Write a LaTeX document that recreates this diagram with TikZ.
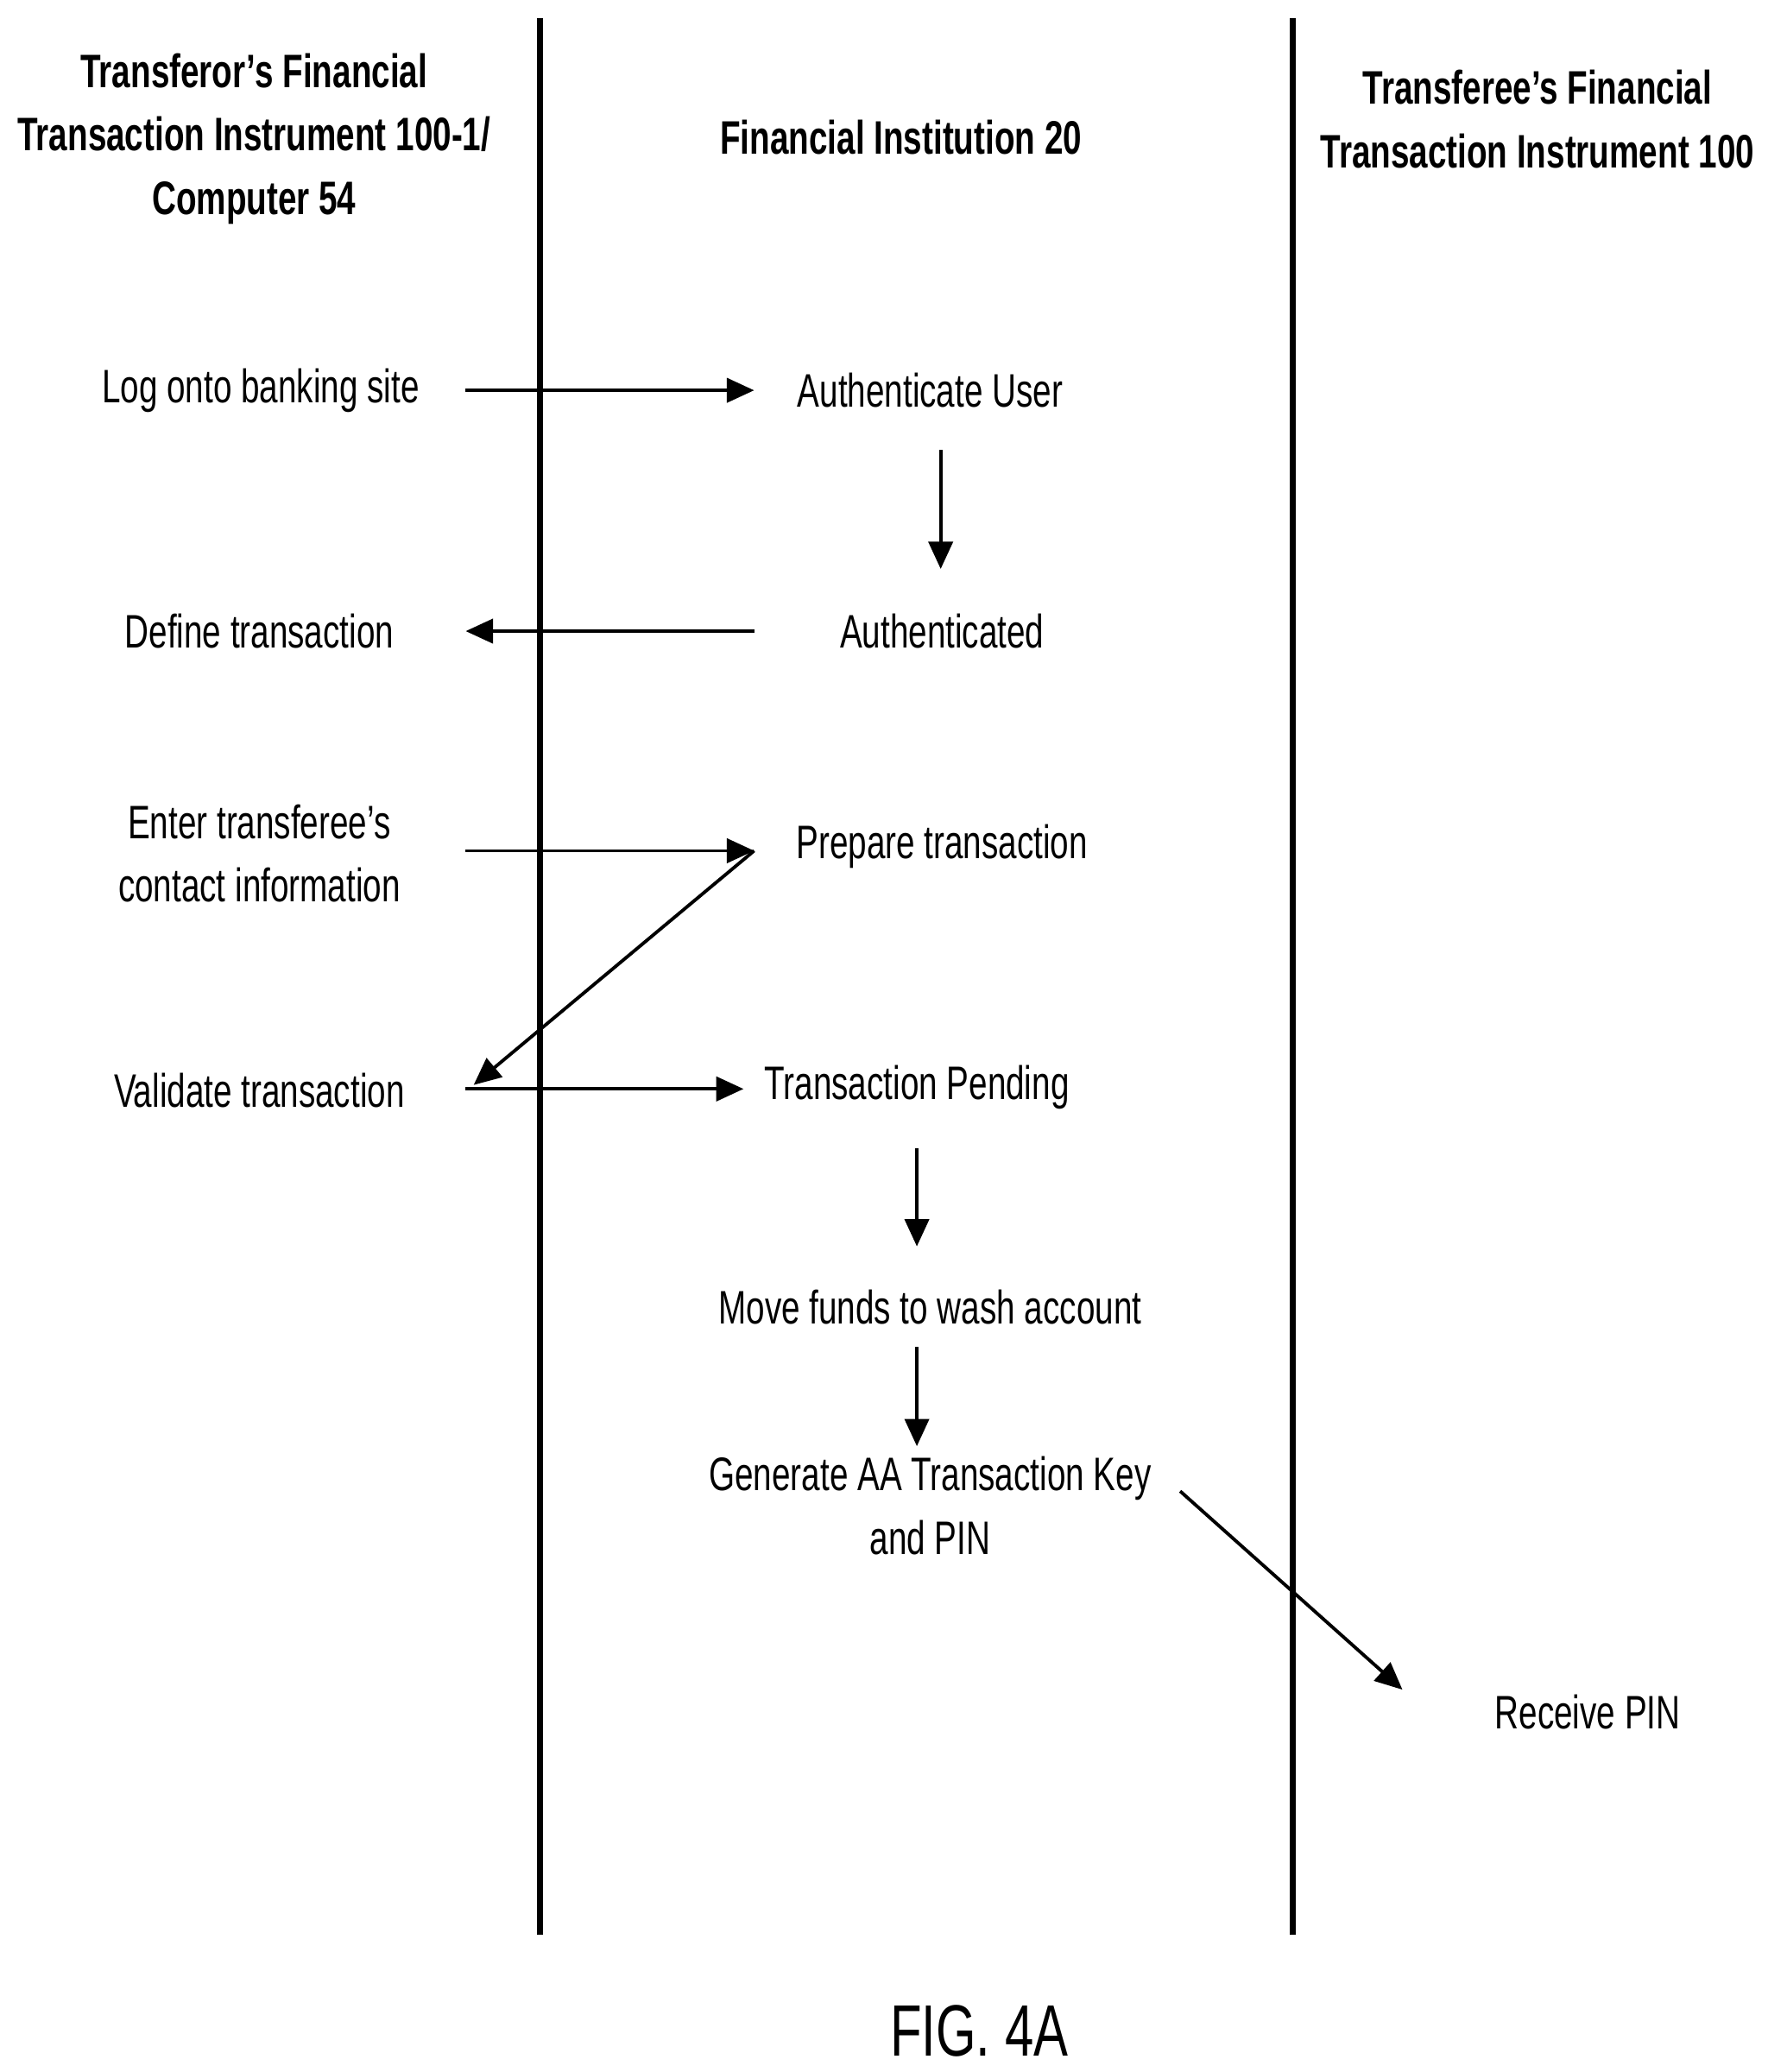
\documentclass[tikz,border=0pt]{standalone}
\usepackage{fontspec}
\setmainfont{Liberation Sans}[FakeStretch=0.71]
\usetikzlibrary{arrows.meta}
\begin{document}
\begin{tikzpicture}[x=0.015336cm,y=-0.015336cm,
  txt/.style={font=\fontsize{15.5}{21}\selectfont,align=center,inner sep=0pt},
  hdr/.style={txt,font=\fontsize{15.5}{21}\selectfont\bfseries},
  lane/.style={line width=2pt},
  arr/.style={line width=1.1pt,-{Triangle[length=9pt,width=8pt]}}]
\useasboundingbox (0,0) rectangle (1336,1566);
\draw[lane] (408,14) -- (408,1462);
\draw[lane] (977,14) -- (977,1462);
\node[hdr] (h1) at (192,105) {Transferor's Financial\\Transaction Instrument 100-1/\\Computer 54};
\node[hdr] (h2) at (681,104) {Financial Institution 20};
\node[hdr] (h3) at (1162,90) {Transferee's Financial\\Transaction Instrument 100};
\node[txt] (log) at (197,295) {Log onto banking site};
\node[txt] (auth) at (703,295) {Authenticate User};
\node[txt] (authd) at (712,477) {Authenticated};
\node[txt] (def) at (196,477) {Define transaction};
\node[txt] (ent) at (196,645) {Enter transferee's\\contact information};
\node[txt] (prep) at (712,640) {Prepare transaction};
\node[txt] (val) at (196,824) {Validate transaction};
\node[txt] (pend) at (693,822) {Transaction Pending};
\node[txt] (move) at (703,988) {Move funds to wash account};
\node[txt] (gen) at (703,1138) {Generate AA Transaction Key\\and PIN};
\node[txt] (rec) at (1200,1294) {Receive PIN};
\node[txt,font=\fontsize{24}{30}\selectfont] (fig) at (740,1535) {FIG. 4A};
\coordinate (a1) at (352,295); \coordinate (a2) at (570,295);
\coordinate (b1) at (711,340); \coordinate (b2) at (711,430);
\coordinate (c1) at (570,477); \coordinate (c2) at (352,477);
\coordinate (d1) at (352,643); \coordinate (d2) at (570,643);
\coordinate (e2) at (358,820);
\coordinate (f1) at (352,823); \coordinate (f2) at (562,823);
\coordinate (g1) at (693,868); \coordinate (g2) at (693,942);
\coordinate (k1) at (693,1018); \coordinate (k2) at (693,1093);
\coordinate (m1) at (892,1127); \coordinate (m2) at (1060,1277);
\draw[arr] (a1) -- (a2);
\draw[arr] (b1) -- (b2);
\draw[arr] (c1) -- (c2);
\draw[arr] (d1) -- (d2);
\draw[arr] (d2) -- (e2);
\draw[arr] (f1) -- (f2);
\draw[arr] (g1) -- (g2);
\draw[arr] (k1) -- (k2);
\draw[arr] (m1) -- (m2);
\end{tikzpicture}
\end{document}
